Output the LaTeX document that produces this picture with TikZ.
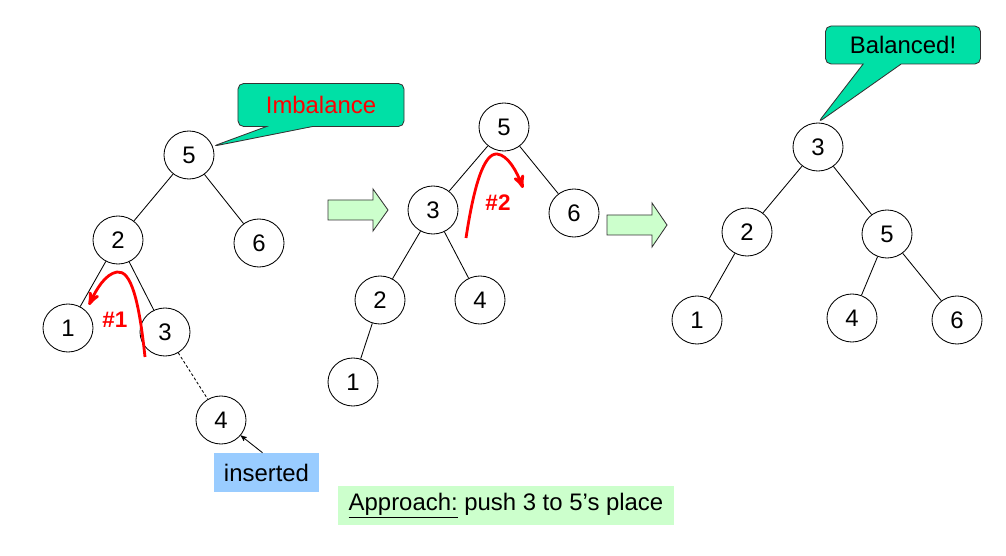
\documentclass[tikz,border=0pt]{standalone}
\usepackage{fontspec}
\setmainfont{Liberation Sans}
\usetikzlibrary{shapes}
\usetikzlibrary{shapes.callouts}
\usetikzlibrary{arrows}
\definecolor{calloutgreen}{RGB}{0,224,166}
\definecolor{lightgreen}{RGB}{204,255,204}
\definecolor{lightblue}{RGB}{153,204,255}
\tikzset{
	treenode/.style = {
		ellipse,
		draw=black,
		line width=0.6pt,
		inner sep=0pt,
		minimum width=1.25cm,
		minimum height=1.2cm,
		font=\fontsize{17}{20}\selectfont
	},
	edge_t/.style = {
		-,
		line width=0.6pt
	},
	edge_new/.style = {
		edge_t,
		dash pattern=on 2pt off 1.5pt
	},
	note_box/.style = {
		rectangle callout,
		rounded corners=4pt,
		draw=black!80,
		fill=calloutgreen,
		line width=0.6pt,
		font=\fontsize{17}{20}\selectfont
	},
	label_box/.style = {
		rectangle,
		inner sep=0pt,
		minimum height=0.975cm,
		font=\fontsize{17}{20}\selectfont
	},
	move_arrow/.style = {
		->,
		>=stealth',
		red,
		line width=2pt
	},
	move_label/.style = {
		red,
		font=\fontsize{16}{19}\selectfont\bfseries
	},
	block_arrow/.style = {
		draw=black!80,
		fill=lightgreen,
		line width=0.6pt
	}
}
\begin{document}
\begin{tikzpicture}[x=0.025cm,y=-0.025cm]
\useasboundingbox (0,0) rectangle (1006,556);
% before: 4 inserted under 3
\node [treenode] (a5) at (189,155) {5};
\node [treenode] (a2) at (118,240) {2};
\node [treenode] (a6) at (259,243) {6};
\node [treenode] (a1) at (68,328) {1};
\node [treenode] (a3) at (165,332) {3};
\node [treenode] (a4) at (221,420) {4};
\foreach \p/\c in {a5/a2,a5/a6,a2/a1,a2/a3}
	\draw [edge_t] (\p) -- (\c);
\draw [edge_new] (a3) -- (a4);
% after step #1
\node [treenode] (b5) at (504,127) {5};
\node [treenode] (b3) at (433,210) {3};
\node [treenode] (b6) at (574,213) {6};
\node [treenode] (b2) at (380,300) {2};
\node [treenode] (b4) at (480,300) {4};
\node [treenode] (b1) at (353,382) {1};
\foreach \p/\c in {b5/b3,b5/b6,b3/b2,b3/b4,b2/b1}
	\draw [edge_t] (\p) -- (\c);
% after step #2
\node [treenode] (c3) at (818,147) {3};
\node [treenode] (c2) at (747,232) {2};
\node [treenode] (c5) at (887,234) {5};
\node [treenode] (c1) at (697,320) {1};
\node [treenode] (c4) at (852,318) {4};
\node [treenode] (c6) at (957,320) {6};
\foreach \p/\c in {c3/c2,c3/c5,c2/c1,c5/c4,c5/c6}
	\draw [edge_t] (\p) -- (\c);
% callouts
\node [note_box, minimum width=4.15cm, minimum height=1.075cm,
	callout pointer width=1.15cm, callout absolute pointer={(a5.20)}]
	(imb) at (321,105) {\textcolor{red}{Imbalance}};
\node [note_box, minimum width=3.875cm, minimum height=0.95cm,
	callout pointer width=0.95cm, callout absolute pointer={(c3.north)}]
	(bal) at (903,45) {Balanced!};
% rotations
\coordinate (r1s) at (145,357);
\coordinate (r1e) at (89,305);
\draw [move_arrow] (r1s) .. controls (139,300) and (131,270) .. (117,272)
	.. controls (105,274) and (96,290) .. (r1e);
\node [move_label] (m1) at (115,320) {\#1};
\coordinate (r2s) at (466,238);
\coordinate (r2e) at (523,188);
\draw [move_arrow] (r2s) .. controls (474,185) and (484,153) .. (497,154)
	.. controls (508,155) and (517,172) .. (r2e);
\node [move_label] (m2) at (498,203) {\#2};
% step arrows
\draw [block_arrow] (328,200) -- (373,200) -- (373,189) -- (388,210)
	-- (373,231) -- (373,220) -- (328,220) -- cycle;
\draw [block_arrow] (607,215) -- (652,215) -- (652,203) -- (667,225)
	-- (652,247) -- (652,235) -- (607,235) -- cycle;
% notes
\node [label_box, fill=lightblue, minimum width=2.625cm] (ins) at (266.5,472.5) {inserted};
\draw [->, >=stealth', line width=0.6pt] ([xshift=-0.1cm]ins.north) -- (a4);
\node [label_box, fill=lightgreen, minimum width=8.4cm] (appr) at (506,505.5)
	{\underline{Approach:} push 3 to 5’s place};
\end{tikzpicture}
\end{document}
